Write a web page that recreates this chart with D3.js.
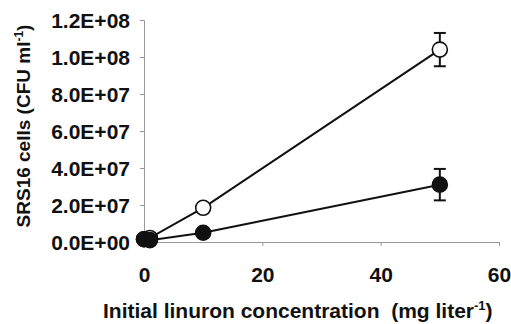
<!DOCTYPE html>
<html>
<head>
<meta charset="utf-8">
<script src="https://cdn.jsdelivr.net/npm/d3@7"></script>
<style>
  body { margin: 0; background: #fff; }
  text { font-family: "Liberation Sans", Arial, sans-serif; font-weight: bold; fill: #111; }
</style>
</head>
<body>
<div id="chart"></div>
<script>
// linuron concentration (mg/l)
const concentrations = [0, 1, 10, 50];
// open circles
const openValues = [1.5e6, 2.2e6, 1.85e7, 1.04e8];
const openErrors = [0, 0, 0, 9e6];
// filled circles
const filledValues = [1.5e6, 1.0e6, 5.0e6, 3.1e7];
const filledErrors = [0, 0, 0, 8.5e6];

const yTicks = [0, 2e7, 4e7, 6e7, 8e7, 1e8, 1.2e8];
const xTicks = [0, 20, 40, 60];

const width = 511, height = 324;
const margin = { top: 20, right: 12, bottom: 82, left: 144 };

const svg = d3
  .select("#chart")
  .append("svg")
  .attr("width", width)
  .attr("height", height);

const x = d3.scaleLinear().domain([0, 60]).range([margin.left, width - margin.right]);
const y = d3.scaleLinear().domain([0, 1.2e8]).range([height - margin.bottom, margin.top]);

const fmt = (v) => {
  const e = v === 0 ? 0 : Math.floor(Math.log10(v));
  const m = v === 0 ? 0 : v / Math.pow(10, e);
  return `${m.toFixed(1)}E+${String(e).padStart(2, "0")}`;
};

// y axis
const yAxis = svg
  .append("g")
  .attr("transform", `translate(${margin.left},0)`)
  .call(d3.axisLeft(y).tickValues(yTicks).tickFormat(fmt).tickSize(4).tickPadding(10));
yAxis.select(".domain").attr("stroke", "#999");
yAxis.selectAll(".tick line").attr("stroke", "#999");
yAxis.selectAll(".tick text").style("font-size", "21px").style("font-family", "Liberation Sans, Arial").attr("font-weight", "bold").attr("dy", "0.36em");

// x axis
const xAxis = svg
  .append("g")
  .attr("transform", `translate(0,${height - margin.bottom})`)
  .call(d3.axisBottom(x).tickValues(xTicks).tickSize(4).tickPadding(21));
xAxis.select(".domain").attr("stroke", "#999");
xAxis.selectAll(".tick line").attr("stroke", "#999");
xAxis.selectAll(".tick text").style("font-size", "21px").style("font-family", "Liberation Sans, Arial").attr("font-weight", "bold");

// axis titles
svg
  .append("text")
  .attr("x", 103)
  .attr("y", 318)
  .style("font-size", "21px")
  .html("Initial linuron concentration&#160;&#160;(mg liter<tspan dy='-8' style='font-size:13px'>-1</tspan><tspan dy='8'>)</tspan>");

svg
  .append("text")
  .attr("transform", `translate(30,126) rotate(-90)`)
  .style("text-anchor", "middle")
  .style("font-size", "19px")
  .html("SRS16 cells (CFU ml<tspan dy='-7' style='font-size:12px'>-1</tspan><tspan dy='7'>)</tspan>");

const line = d3.line().x((d) => x(d[0])).y((d) => y(d[1]));

function drawSeries(values, errors, fill) {
  const pts = concentrations.map((c, i) => [c, values[i], errors[i]]);
  svg.append("path").datum(pts).attr("d", line).attr("fill", "none").attr("stroke", "#111").attr("stroke-width", 2);

  const eb = svg.append("g").selectAll("g").data(pts.filter((d) => d[2] > 0)).enter().append("g");
  eb.append("line")
    .attr("x1", (d) => x(d[0])).attr("x2", (d) => x(d[0]))
    .attr("y1", (d) => y(d[1] - d[2])).attr("y2", (d) => y(d[1] + d[2]))
    .attr("stroke", "#111").attr("stroke-width", 2);
  [1, -1].forEach((s) => {
    eb.append("line")
      .attr("x1", (d) => x(d[0]) - 6).attr("x2", (d) => x(d[0]) + 6)
      .attr("y1", (d) => y(d[1] + s * d[2])).attr("y2", (d) => y(d[1] + s * d[2]))
      .attr("stroke", "#111").attr("stroke-width", 2);
  });

  svg.append("g").selectAll("circle").data(pts).enter().append("circle")
    .attr("cx", (d) => x(d[0])).attr("cy", (d) => y(d[1]))
    .attr("r", 7.5)
    .attr("fill", fill).attr("stroke", "#111").attr("stroke-width", 1.6);
}

drawSeries(openValues, openErrors, "#fff");
drawSeries(filledValues, filledErrors, "#111");
</script>
</body>
</html>
